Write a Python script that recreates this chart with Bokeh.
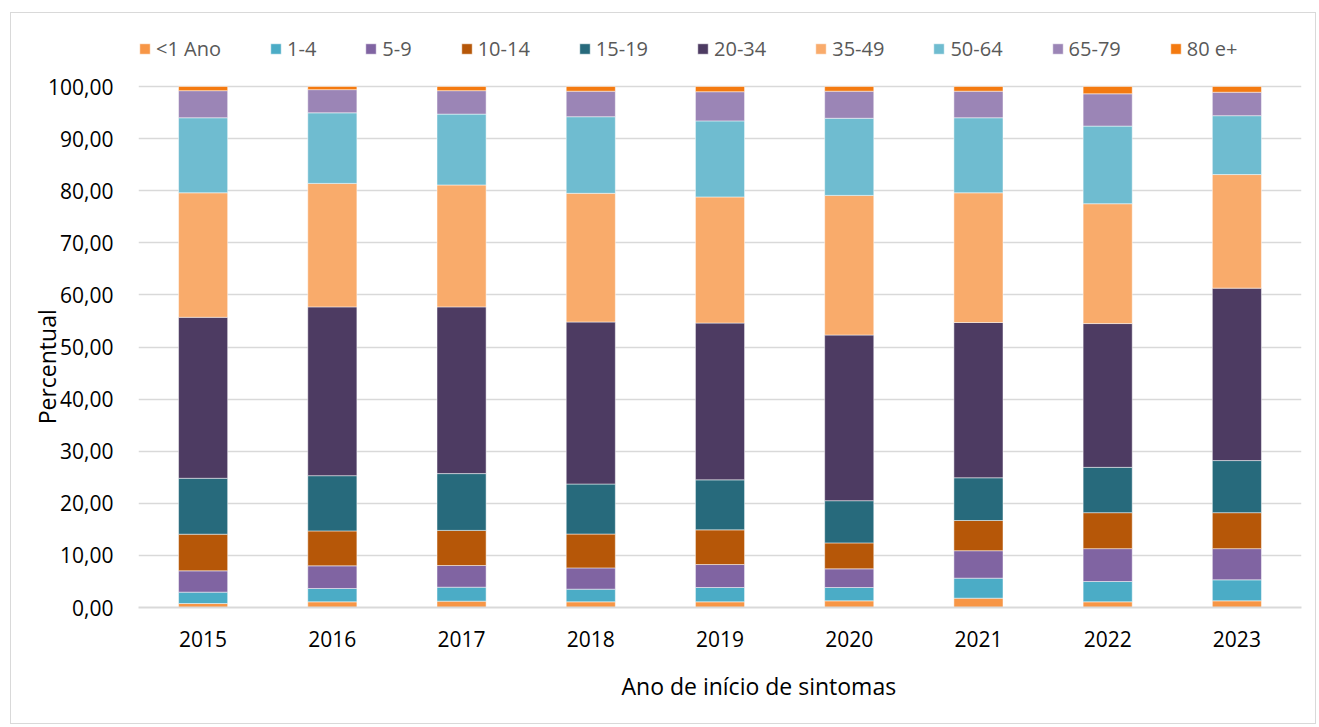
from bokeh.plotting import figure
from bokeh.models import Legend, LegendItem, CustomJSTickFormatter, ColumnDataSource, FixedTicker
from bokeh.embed import file_html
from bokeh.resources import INLINE

years = ["2015", "2016", "2017", "2018", "2019", "2020", "2021", "2022", "2023"]
groups = ["<1 Ano", "1-4", "5-9", "10-14", "15-19", "20-34", "35-49", "50-64", "65-79", "80 e+"]

lt1 = [0.77, 1.09, 1.22, 1.09, 1.09, 1.28, 1.79, 1.09, 1.28]
a1_4 = [2.18, 2.56, 2.68, 2.43, 2.75, 2.56, 3.84, 3.90, 4.03]
a5_9 = [4.09, 4.35, 4.16, 4.08, 4.41, 3.58, 5.27, 6.31, 5.99]
a10_14 = [7.03, 6.70, 6.74, 6.50, 6.65, 4.98, 5.80, 6.90, 6.90]
a15_19 = [10.73, 10.60, 10.90, 9.60, 9.60, 8.10, 8.20, 8.70, 10.00]
a20_34 = [30.90, 32.40, 32.00, 31.10, 30.10, 31.80, 29.80, 27.60, 33.10]
a35_49 = [23.90, 23.70, 23.40, 24.70, 24.20, 26.80, 24.90, 23.00, 21.80]
a50_64 = [14.40, 13.55, 13.60, 14.70, 14.60, 14.80, 14.40, 14.90, 11.30]
a65_79 = [5.20, 4.45, 4.50, 4.90, 5.60, 5.20, 5.10, 6.20, 4.50]
a80 = [0.80, 0.60, 0.80, 0.90, 1.00, 0.90, 0.90, 1.40, 1.10]
y_ticks = [0, 10, 20, 30, 40, 50, 60, 70, 80, 90, 100]

series = [lt1, a1_4, a5_9, a10_14, a15_19, a20_34, a35_49, a50_64, a65_79, a80]
colors = ["#F79646", "#4BACC6", "#8064A2", "#B65708", "#276A7C",
          "#4D3B62", "#F9AB6B", "#6FBCD0", "#9B85B6", "#F47A10"]

data = {"year": years}
for g, s in zip(groups, series):
    data[g] = s
source = ColumnDataSource(data)

FONT = "Open Sans"
NB = "\u00a0"

# frame extends above the 100 line so the legend can sit inside it
p = figure(x_range=years, y_range=(0, 100 * 577 / 521), width=1306, height=712,
           output_backend="svg", toolbar_location=None,
           min_border_left=127, min_border_top=17, min_border_right=16, min_border_bottom=118)
p.styles = {"border": "1px solid #D9D9D9", "margin-left": "10px", "margin-top": "12px"}
p.outline_line_color = None
p.background_fill_color = "white"
p.border_fill_color = "white"

renderers = p.vbar_stack(groups, x="year", width=0.38, source=source, color=colors,
                         line_color="white", line_width=0.8, line_alpha=0.6)

p.xgrid.grid_line_color = None
p.ygrid.grid_line_color = "#D9D9D9"
p.ygrid.grid_line_width = 1.5
p.yaxis.ticker = FixedTicker(ticks=y_ticks)

p.yaxis.axis_line_color = None
p.yaxis.major_tick_line_color = None
p.yaxis.minor_tick_line_color = None
p.yaxis.major_tick_out = 0
p.yaxis.minor_tick_out = 0
p.yaxis.major_label_standoff = 25
p.yaxis.major_label_text_font = FONT
p.yaxis.major_label_text_font_size = "21px"
p.yaxis.major_label_text_color = "#000000"
p.yaxis.formatter = CustomJSTickFormatter(code="return tick.toFixed(2).replace('.', ',');")
p.yaxis.axis_label = "Percentual" + NB * 16
p.yaxis.axis_label_text_font = FONT
p.yaxis.axis_label_text_font_size = "23px"
p.yaxis.axis_label_text_font_style = "normal"
p.yaxis.axis_label_text_color = "#000000"
p.yaxis.axis_label_standoff = -18

p.xaxis.axis_line_color = "#D9D9D9"
p.xaxis.axis_line_width = 2
p.xaxis.major_tick_line_color = None
p.xaxis.minor_tick_line_color = None
p.xaxis.major_tick_out = 0
p.xaxis.minor_tick_out = 0
p.xaxis.major_label_standoff = 23
p.xaxis.major_label_text_font = FONT
p.xaxis.major_label_text_font_size = "21px"
p.xaxis.major_label_text_color = "#000000"
p.xaxis.axis_label = NB * 13 + "Ano de início de sintomas"
p.xaxis.axis_label_text_font = FONT
p.xaxis.axis_label_text_font_size = "23px"
p.xaxis.axis_label_text_font_style = "normal"
p.xaxis.axis_label_text_color = "#000000"
p.xaxis.axis_label_standoff = 20

items = [LegendItem(label=g, renderers=[r]) for g, r in zip(groups, renderers)]
legend = Legend(items=items, orientation="horizontal", location=(0, 545),
                glyph_width=13, glyph_height=13, label_standoff=5, spacing=48,
                padding=0, margin=0, label_height=20,
                label_text_font=FONT, label_text_font_size="20px",
                label_text_color="#595959", border_line_color=None,
                background_fill_alpha=0)
p.add_layout(legend, "center")

open("out.html", "w").write(file_html(p, INLINE))
